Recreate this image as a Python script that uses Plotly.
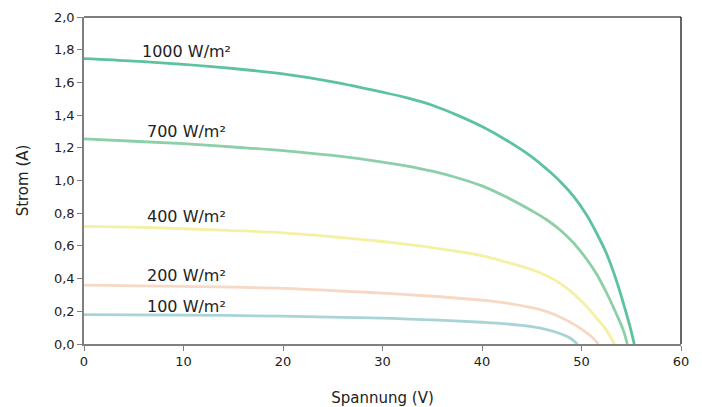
import plotly.graph_objects as go

# Kennlinien (Spannung V, Strom A) je Einstrahlung
v_1000 = [0, 5, 10, 15, 20, 25, 30, 32.5, 35, 37.5, 40, 42.5, 45, 46.5, 48, 49.25, 50.5, 51.5, 52.5, 53.5, 54.3, 54.9, 55.3]
i_1000 = [1.745, 1.73, 1.71, 1.685, 1.652, 1.603, 1.54, 1.505, 1.46, 1.40, 1.33, 1.245, 1.145, 1.07,
          0.985, 0.90, 0.79, 0.68, 0.555, 0.39, 0.23, 0.10, 0]

v_700 = [0, 5, 10, 15, 20, 25, 30, 32.5, 35, 37.5, 40, 42.5, 45, 46.5, 48, 49.25, 50.5, 51.5, 52.5, 53.5, 54.2, 54.6]
i_700 = [1.255, 1.24, 1.225, 1.205, 1.183, 1.153, 1.113, 1.088, 1.057, 1.017, 0.967, 0.897, 0.815, 0.76,
         0.69, 0.615, 0.52, 0.43, 0.315, 0.185, 0.085, 0]

v_400 = [0, 5, 10, 15, 20, 25, 30, 32.5, 35, 37.5, 40, 42.5, 45, 46.5, 48, 49.25, 50.5, 51.5, 52.5, 53.3]
i_400 = [0.72, 0.715, 0.705, 0.694, 0.68, 0.656, 0.627, 0.61, 0.59, 0.567, 0.54, 0.50, 0.455, 0.418,
         0.365, 0.305, 0.23, 0.16, 0.085, 0]

v_200 = [0, 10, 20, 25, 30, 35, 40, 42.5, 45, 46.5, 48, 49.25, 50.25, 51.1, 51.7]
i_200 = [0.36, 0.352, 0.34, 0.327, 0.311, 0.292, 0.268, 0.25, 0.222, 0.198, 0.16, 0.12, 0.08, 0.04, 0]

v_100 = [0, 10, 20, 30, 35, 40, 42.5, 45, 46.5, 47.75, 48.75, 49.6]
i_100 = [0.18, 0.177, 0.17, 0.158, 0.147, 0.133, 0.123, 0.106, 0.088, 0.066, 0.04, 0]

labels = ["1000 W/m²", "700 W/m²", "400 W/m²", "200 W/m²", "100 W/m²"]
label_y = [1.786, 1.297, 0.777, 0.416, 0.232]
label_x = 10.35

series = [
    (v_1000, i_1000, "#5cc39e"),
    (v_700, i_700, "#8ccfa8"),
    (v_400, i_400, "#f4f1a4"),
    (v_200, i_200, "#f6d8c5"),
    (v_100, i_100, "#a8d4d8"),
]

fig = go.Figure()
for (v, i, col), name in zip(series, labels):
    fig.add_trace(go.Scatter(
        x=v, y=i, mode='lines', name=name,
        line=dict(color=col, width=2.8, shape='spline', smoothing=1.0),
        showlegend=False
    ))

for txt, y in zip(labels, label_y):
    fig.add_annotation(x=label_x, y=y, text=txt, showarrow=False,
                       font=dict(size=16, color="#222222"))

# oberer und rechter Rahmen
fig.add_shape(type="line", xref="paper", yref="paper", x0=0, x1=1, y0=1, y1=1,
              line=dict(color="black", width=1.2))
fig.add_shape(type="line", xref="paper", yref="paper", x0=1, x1=1, y0=0, y1=1,
              line=dict(color="black", width=1.2))

# Seite hat 8px Body-Rand -> Figur entsprechend kleiner
fig.update_layout(
    width=694, height=399,
    margin=dict(l=76, r=21, t=9, b=63),
    paper_bgcolor="white", plot_bgcolor="white",
    separators=",.",
    font=dict(family="DejaVu Sans", size=13, color="#222222"),
    xaxis=dict(range=[0, 60], dtick=10, showgrid=False, zeroline=False, automargin=False,
               showline=True, linecolor="#808080", linewidth=1.5,
               ticks="outside", ticklen=5, tickcolor="#808080",
               title=dict(text="Spannung (V)", font=dict(size=15), standoff=25)),
    yaxis=dict(range=[0, 2.0], dtick=0.2, tickformat=".1f", showgrid=False, zeroline=False,
               automargin=False,
               showline=True, linecolor="#808080", linewidth=1.5,
               ticks="outside", ticklen=5, tickcolor="#808080",
               title=dict(text="Strom (A)", font=dict(size=15), standoff=22)),
)

fig.write_html("out.html")
